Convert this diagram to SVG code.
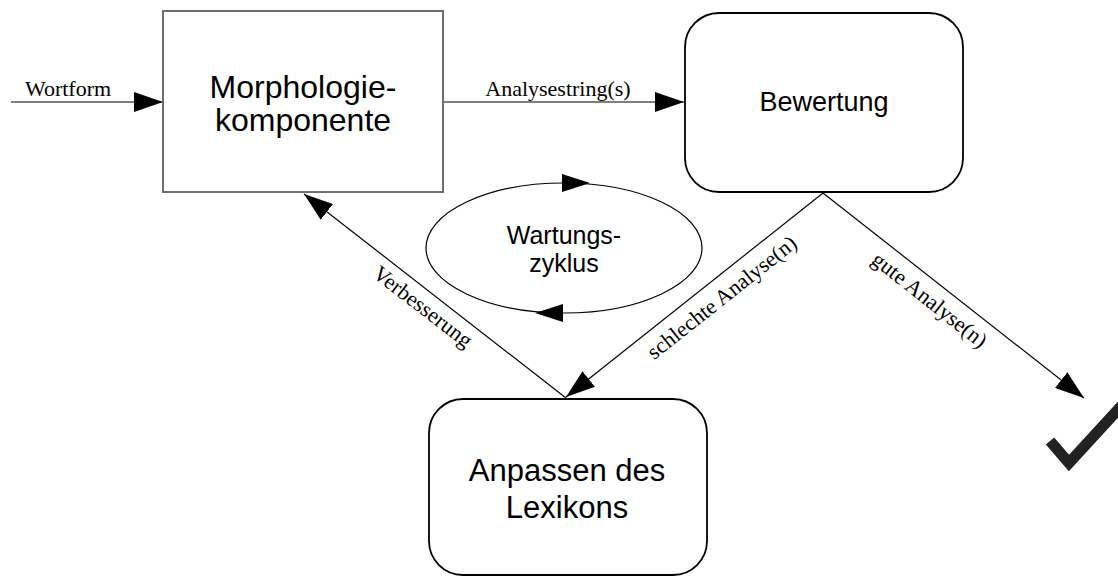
<svg xmlns="http://www.w3.org/2000/svg" width="1118" height="577" viewBox="0 0 1118 577">
<defs>
<marker id="ah" markerUnits="userSpaceOnUse" markerWidth="30" markerHeight="20" refX="29" refY="10" orient="auto">
<path d="M0,0 L29,10 L0,20 Z" fill="#000"/>
</marker>
<style>
.sans{font-family:"Liberation Sans",Arial,sans-serif;fill:#000;text-anchor:middle}
.serif{font-family:"Liberation Serif","Times New Roman",serif;font-size:22px;fill:#000;text-anchor:middle}
.conn{stroke:#000;stroke-width:1.2;fill:none}
.rbox{fill:#fff;stroke:#000;stroke-width:1.8}
</style>
</defs>
<rect width="1118" height="577" fill="#fff"/>
<g id="connectors">
<line class="conn" x1="11" y1="102" x2="163" y2="102" marker-end="url(#ah)"/>
<text class="serif" x="68" y="96">Wortform</text>
<line class="conn" x1="443" y1="102" x2="684" y2="102" marker-end="url(#ah)"/>
<text class="serif" x="558" y="96">Analysestring(s)</text>
<line class="conn" x1="566" y1="398" x2="304" y2="194" marker-end="url(#ah)"/>
<text class="serif" transform="translate(305,196) rotate(37.6)" x="161" y="23">Verbesserung</text>
<line class="conn" x1="823" y1="193" x2="566" y2="397" marker-end="url(#ah)"/>
<text class="serif" transform="translate(566,397) rotate(-38.4)" x="184" y="26">schlechte Analyse(n)</text>
<line class="conn" x1="823" y1="193" x2="1084" y2="398" marker-end="url(#ah)"/>
<text class="serif" transform="translate(823,193) rotate(38.3)" x="150" y="25">gute Analyse(n)</text>
</g>
<g id="morphologie">
<rect x="163" y="11" width="280" height="181" fill="#fff" stroke="#6e6e6e" stroke-width="2"/>
<text class="sans" style="font-size:32px" x="303" y="98">Morphologie-</text>
<text class="sans" style="font-size:32px" x="303" y="131">komponente</text>
</g>
<g id="bewertung">
<rect class="rbox" x="685" y="13" width="278" height="179" rx="34" ry="34"/>
<text class="sans" style="font-size:27px" x="824" y="111">Bewertung</text>
</g>
<g id="anpassen">
<rect class="rbox" x="429" y="399" width="278" height="176" rx="34" ry="34"/>
<text class="sans" style="font-size:31px" x="567" y="481">Anpassen des</text>
<text class="sans" style="font-size:31px" x="567" y="518">Lexikons</text>
</g>
<g id="wartungszyklus">
<ellipse cx="564" cy="248" rx="138" ry="65" fill="none" stroke="#000" stroke-width="1.2"/>
<path d="M562,174 L590,183 L562,192 Z" fill="#000"/>
<path d="M563,304 L535,313 L563,322 Z" fill="#000"/>
<text class="sans" style="font-size:25px" x="564" y="244">Wartungs-</text>
<text class="sans" style="font-size:25px" x="564" y="272">zyklus</text>
</g>
<g id="check">
<polyline points="1050,441 1069,463 1124,403" fill="none" stroke="#222" stroke-width="11" stroke-linejoin="miter" stroke-miterlimit="10"/>
</g>
</svg>
